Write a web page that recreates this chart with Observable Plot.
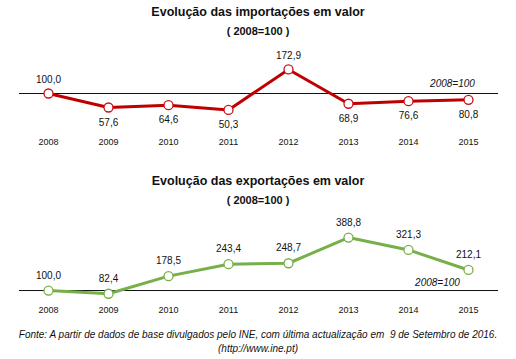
<!DOCTYPE html>
<html><head><meta charset="utf-8">
<script src="https://cdn.jsdelivr.net/npm/d3@7"></script>
<script src="https://cdn.jsdelivr.net/npm/@observablehq/plot@0.6"></script>
<style>
body{margin:0;background:#fff;font-family:"Liberation Sans",Arial,sans-serif;}
#wrap{position:relative;width:516px;height:359px;overflow:hidden;}
.t{position:absolute;left:0;width:516px;text-align:center;font-weight:bold;color:#111;}
.abs{position:absolute;left:0;}
.foot{position:absolute;left:0;width:516px;text-align:center;font-style:italic;font-size:10px;line-height:14px;color:#111;}
</style></head>
<body><div id="wrap">
<div class="t" style="top:4px;font-size:12.5px;line-height:16px">Evolução das importações em valor</div>
<div class="t" style="top:24px;font-size:11px;line-height:14px">( 2008=100 )</div>
<div class="abs" id="c1" style="top:40px"></div>
<div class="t" style="top:173px;font-size:12.5px;line-height:16px">Evolução das exportações em valor</div>
<div class="t" style="top:193px;font-size:11px;line-height:14px">( 2008=100 )</div>
<div class="abs" id="c2" style="top:208px"></div>
<div class="foot" style="top:328px">Fonte: A partir de dados de base divulgados pelo INE, com última actualização em&nbsp; 9 de Setembro de 2016.<br>(http://www.ine.pt)</div>
</div>
<script>
const years = [2008, 2009, 2010, 2011, 2012, 2013, 2014, 2015];
const importacoes = [100.0, 57.6, 64.6, 50.3, 172.9, 68.9, 76.6, 80.8];
const exportacoes = [100.0, 82.4, 178.5, 243.4, 248.7, 388.8, 321.3, 212.1];
const baseLabel = "2008=100";

const fmt = v => v.toFixed(1).replace(".", ",");

function chart(values, opts) {
  const data = years.map((y, i) => ({year: y, value: values[i]}));
  const above = data.filter(d => opts.above(d.value));
  const below = data.filter(d => !opts.above(d.value));
  return Plot.plot({
    width: 516,
    height: opts.height,
    marginLeft: 48, marginRight: 48,
    marginTop: opts.marginTop, marginBottom: opts.marginBottom,
    style: {fontFamily: '"Liberation Sans", Arial, sans-serif', background: "#fff"},
    x: {type: "linear", domain: [2008, 2015], axis: null},
    y: {domain: opts.ydomain, axis: null},
    marks: [
      Plot.axisX({ticks: years, tickFormat: d => String(d), tickSize: 0, tickPadding: opts.tickPadding, fontSize: 9, fill: "#111", label: null}),
      Plot.ruleY([100], {stroke: "#111", strokeWidth: 1, insetLeft: -29, insetRight: -30}),
      Plot.text([baseLabel], {x: 2015, y: 100, text: d => d, fontStyle: "italic", fontSize: 10, dx: opts.baseDx, dy: opts.baseDy, fill: "#111"}),
      Plot.line(data, {x: "year", y: "value", stroke: opts.color, strokeWidth: 3}),
      Plot.dot(data, {x: "year", y: "value", r: 4.5, fill: "#fff", stroke: opts.dotColor, strokeWidth: 1.3}),
      Plot.text(above, {x: "year", y: "value", text: d => fmt(d.value), dy: opts.dyAbove, fontSize: 10, fill: "#111"}),
      Plot.text(below, {x: "year", y: "value", text: d => fmt(d.value), dy: 15, fontSize: 10, fill: "#111"})
    ]
  });
}

document.getElementById("c1").appendChild(chart(importacoes, {
  height: 112, marginTop: 20, marginBottom: 26, ydomain: [0, 200],
  tickPadding: 12, color: "#C00000", dotColor: "#C8101A",
  above: v => v >= 100, dyAbove: -14, baseDx: -16, baseDy: -10
}));
document.getElementById("c2").appendChild(chart(exportacoes, {
  height: 116, marginTop: 27, marginBottom: 24.8, ydomain: [50, 400],
  tickPadding: 7, color: "#77B04A", dotColor: "#77B04A",
  above: v => true, dyAbove: -15, baseDx: -31, baseDy: -8
}));
</script>
</body></html>
